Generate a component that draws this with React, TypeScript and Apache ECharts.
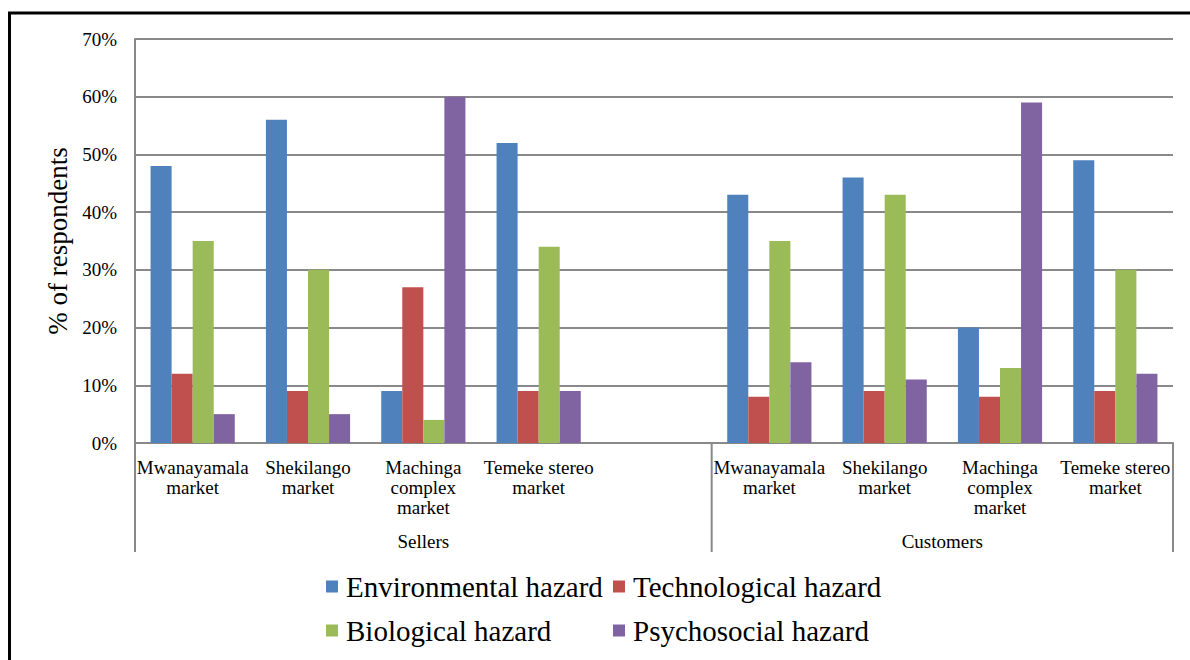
import React, { useEffect, useRef } from "react";
import * as echarts from "echarts";

const categories = [
  "Mwanayamala\nmarket",
  "Shekilango\nmarket",
  "Machinga\ncomplex\nmarket",
  "Temeke stereo\nmarket",
  "",
  "Mwanayamala\nmarket",
  "Shekilango\nmarket",
  "Machinga\ncomplex\nmarket",
  "Temeke stereo\nmarket",
];
const groupNames = ["Sellers", "Customers"];
const groupSpans = [5, 4];

const seriesNames = [
  "Environmental hazard",
  "Technological hazard",
  "Biological hazard",
  "Psychosocial hazard",
];
const environmental = [48, 56, 9, 52, null, 43, 46, 20, 49];
const technological = [12, 9, 27, 9, null, 8, 9, 8, 9];
const biological = [35, 30, 4, 34, null, 35, 43, 13, 30];
const psychosocial = [5, 5, 60, 9, null, 14, 11, 59, 12];
const seriesData = [environmental, technological, biological, psychosocial];
const colors = ["#4F81BD", "#C0504D", "#9BBB59", "#8064A2"];

const FONT = "'Liberation Serif', 'Times New Roman', Times, serif";
const GRAY = "#898989";

export default function App() {
  const ref = useRef<HTMLDivElement>(null);
  useEffect(() => {
    if (!ref.current) return;
    const chart = echarts.init(ref.current, null, { renderer: "svg" });
    const legendCols = [326, 613];
    const legendRows = [572, 616];
    const option: any = {
      animation: false,
      textStyle: { fontFamily: FONT },
      grid: { left: 135, right: 17, top: 39, bottom: 217, containLabel: false },
      xAxis: {
        type: "category",
        data: categories,
        axisTick: { show: false },
        axisLine: { lineStyle: { color: GRAY, width: 2 } },
        axisLabel: {
          interval: 0,
          margin: 14,
          fontFamily: FONT,
          fontSize: 19,
          lineHeight: 20,
          color: "#000",
        },
      },
      yAxis: {
        type: "value",
        min: 0,
        max: 70,
        interval: 10,
        axisLabel: {
          formatter: "{value}%",
          margin: 18,
          fontFamily: FONT,
          fontSize: 19,
          color: "#000",
        },
        axisLine: { show: true, lineStyle: { color: GRAY, width: 2 } },
        axisTick: { show: false },
        splitLine: { lineStyle: { color: GRAY, width: 2 } },
        name: "% of respondents",
        nameLocation: "middle",
        nameRotate: 90,
        nameGap: 62,
        nameTextStyle: { fontFamily: FONT, fontSize: 27, color: "#000" },
      },
      legend: seriesNames.map((n, i) => ({
        data: [n],
        left: legendCols[i % 2],
        top: legendRows[Math.floor(i / 2)],
        padding: 0,
        itemWidth: 12,
        itemHeight: 12,
        icon: "rect",
        selectedMode: false,
        textStyle: {
          fontFamily: FONT,
          fontSize: 29,
          color: "#000",
          padding: [0, 0, 0, 3],
        },
      })),
      series: seriesNames.map((n, i) => ({
        name: n,
        type: "bar",
        data: seriesData[i],
        barGap: 0,
        barCategoryGap: "27%",
        itemStyle: { color: colors[i] },
      })),
    };
    chart.setOption(option);

    const c0 = chart.convertToPixel({ xAxisIndex: 0 }, 0) as number;
    const c1 = chart.convertToPixel({ xAxisIndex: 0 }, 1) as number;
    const cw = c1 - c0;
    const left = c0 - cw / 2;
    const yBase = chart.convertToPixel({ yAxisIndex: 0 }, 0) as number;
    const graphic: any[] = [
      {
        type: "line",
        shape: { x1: 8, y1: 13, x2: 1190, y2: 13 },
        style: { stroke: "#000", lineWidth: 3 },
      },
      {
        type: "line",
        shape: { x1: 9.5, y1: 12, x2: 9.5, y2: 660 },
        style: { stroke: "#000", lineWidth: 3 },
      },
    ];
    let acc = 0;
    const bounds = [0];
    groupSpans.forEach((s) => {
      acc += s;
      bounds.push(acc);
    });
    bounds.forEach((b) => {
      const x = left + b * cw;
      graphic.push({
        type: "line",
        shape: { x1: x, y1: yBase, x2: x, y2: yBase + 109 },
        style: { stroke: GRAY, lineWidth: 2 },
      });
    });
    groupNames.forEach((g, i) => {
      const xm = left + ((bounds[i] + bounds[i + 1]) / 2) * cw;
      graphic.push({
        type: "text",
        x: xm,
        y: yBase + 98,
        style: {
          text: g,
          fill: "#000",
          fontFamily: FONT,
          fontSize: 19,
          align: "center",
          verticalAlign: "middle",
        },
      });
    });
    chart.setOption({ graphic });
    return () => chart.dispose();
  }, []);
  return (
    <div
      ref={ref}
      style={{ position: "fixed", left: 0, top: 0, width: 1190, height: 660, background: "#fff" }}
    />
  );
}
